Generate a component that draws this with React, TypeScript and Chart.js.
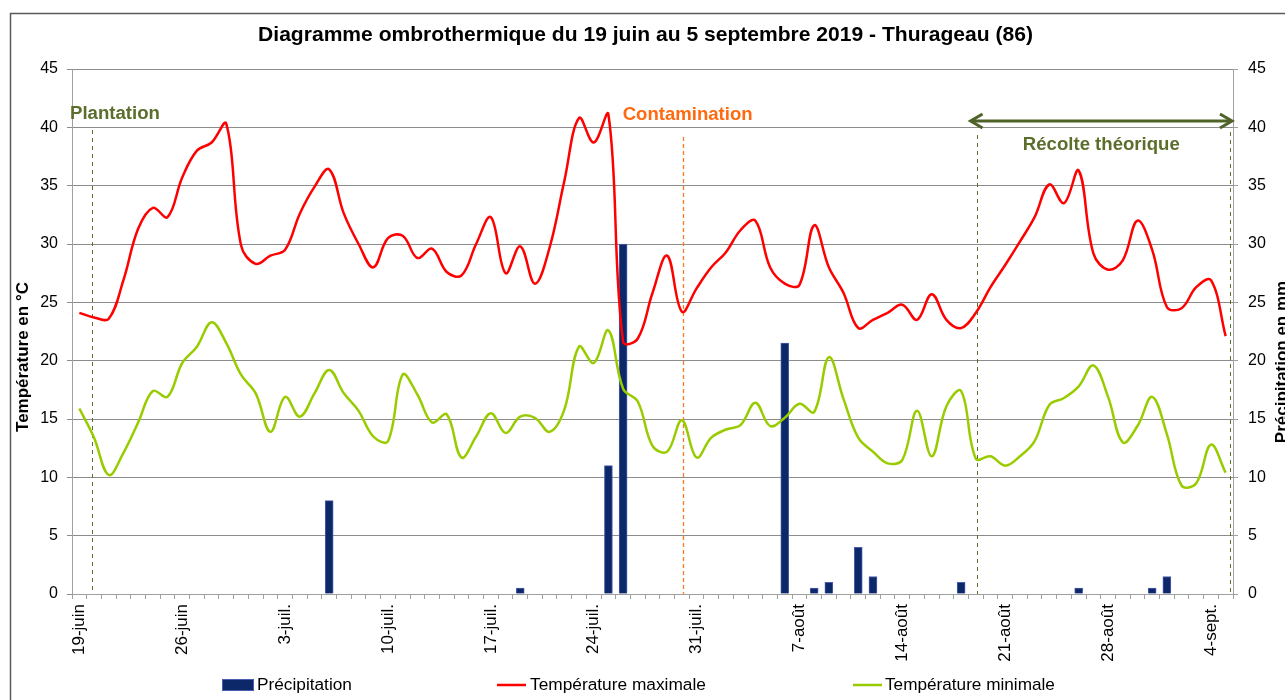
import React, { useEffect, useRef } from "react";
import { Chart, registerables } from "chart.js";

Chart.register(...registerables);

const FAMILY = '"Liberation Sans", Arial, Helvetica, sans-serif';

const TITLE = "Diagramme ombrothermique du 19 juin au 5 septembre 2019 - Thurageau (86)";
const Y_LEFT_TITLE = "Température en °C";
const Y_RIGHT_TITLE = "Précipitation en mm";

const categories = [
  "19-juin", "20-juin", "21-juin", "22-juin", "23-juin", "24-juin", "25-juin", "26-juin", "27-juin", "28-juin", "29-juin", "30-juin",
  "1-juil.", "2-juil.", "3-juil.", "4-juil.", "5-juil.", "6-juil.", "7-juil.", "8-juil.", "9-juil.", "10-juil.", "11-juil.", "12-juil.",
  "13-juil.", "14-juil.", "15-juil.", "16-juil.", "17-juil.", "18-juil.", "19-juil.", "20-juil.", "21-juil.", "22-juil.", "23-juil.",
  "24-juil.", "25-juil.", "26-juil.", "27-juil.", "28-juil.", "29-juil.", "30-juil.", "31-juil.",
  "1-août", "2-août", "3-août", "4-août", "5-août", "6-août", "7-août", "8-août", "9-août", "10-août", "11-août", "12-août",
  "13-août", "14-août", "15-août", "16-août", "17-août", "18-août", "19-août", "20-août", "21-août", "22-août", "23-août",
  "24-août", "25-août", "26-août", "27-août", "28-août", "29-août", "30-août", "31-août",
  "1-sept.", "2-sept.", "3-sept.", "4-sept.", "5-sept.",
];

const precipitation = [
  0, 0, 0, 0, 0, 0, 0, 0, 0, 0,
  0, 0, 0, 0, 0, 0, 0, 8, 0, 0,
  0, 0, 0, 0, 0, 0, 0, 0, 0, 0,
  0.5, 0, 0, 0, 0, 0, 11, 30, 0, 0,
  0, 0, 0, 0, 0, 0, 0, 0, 21.5, 0,
  0.5, 1, 0, 4, 1.5, 0, 0, 0, 0, 0,
  1, 0, 0, 0, 0, 0, 0, 0, 0.5, 0,
  0, 0, 0, 0.5, 1.5, 0, 0, 0, 0,
];

const tempMax = [
  24.1, 23.7, 23.6, 26.9, 31.3, 33.1, 32.3, 35.7, 38.0, 38.7,
  40.3, 29.9, 28.3, 29.0, 29.5, 32.6, 34.9, 36.4, 32.6, 30.0,
  28.0, 30.5, 30.7, 28.8, 29.6, 27.6, 27.3, 30.0, 32.3, 27.5,
  29.8, 26.6, 29.7, 35.4, 40.8, 38.7, 41.1, 21.6, 21.9, 25.8,
  29.0, 24.2, 26.2, 28.0, 29.3, 31.2, 32.0, 28.0, 26.6, 26.5,
  31.6, 28.0, 25.8, 22.8, 23.5, 24.1, 24.8, 23.5, 25.7, 23.5,
  22.8, 24.1, 26.3, 28.2, 30.2, 32.3, 35.1, 33.5, 36.3, 29.2,
  27.8, 28.6, 32.0, 29.5, 24.6, 24.5, 26.3, 26.9, 22.1,
];

const tempMin = [
  15.9, 13.4, 10.2, 12.1, 14.7, 17.4, 16.9, 19.8, 21.2, 23.3,
  21.5, 18.8, 17.2, 13.9, 16.9, 15.2, 17.2, 19.2, 17.2, 15.7,
  13.5, 13.1, 18.8, 17.1, 14.7, 15.4, 11.7, 13.5, 15.5, 13.8,
  15.2, 15.1, 13.9, 15.8, 21.2, 19.8, 22.6, 17.6, 16.5, 12.7,
  12.2, 14.9, 11.7, 13.4, 14.1, 14.5, 16.4, 14.4, 15.1, 16.3,
  15.6, 20.3, 16.7, 13.4, 12.2, 11.2, 11.5, 15.7, 11.8, 16.1,
  17.4, 11.6, 11.8, 11.0, 11.8, 13.1, 16.2, 16.8, 17.8, 19.6,
  16.9, 13.0, 14.4, 16.9, 13.7, 9.3, 9.5, 12.8, 10.4,
];

const seriesNames = ["Précipitation", "Température maximale", "Température minimale"];

// event markers (category index positions)
const plantationDay = 0.85;
const contaminationDay = 41.05;
const harvestStartDay = 61.05;
const harvestEndDay = 78.3;

const OLIVE = "#5b6e2c";
const ORANGE = "#ff6a10";
const RED = "#ff0000";
const GREEN = "#99cc00";
const NAVY = "#0c2868";
const NAVY_BORDER = "#4d5db0";

function setFitFont(ctx: CanvasRenderingContext2D, text: string, width: number, weight: string) {
  ctx.font = `${weight} 20px ${FAMILY}`;
  const w = ctx.measureText(text).width;
  const size = (20 * width) / w;
  ctx.font = `${weight} ${size.toFixed(2)}px ${FAMILY}`;
}

function dayX(chart: any, idx: number) {
  const xs = chart.scales.x;
  const p0 = xs.getPixelForValue(0);
  const p1 = xs.getPixelForValue(1);
  return p0 + idx * (p1 - p0);
}

const decorPlugin = {
  id: "decor",
  beforeDatasetsDraw(chart: any) {
    const ctx = chart.ctx as CanvasRenderingContext2D;
    const bottom = chart.chartArea.bottom;
    const lines: [number, number, string, number[], number][] = [
      [plantationDay, 130, OLIVE, [4, 4], 1],
      [contaminationDay, 137, "#ff7a20", [4, 3], 1.3],
      [harvestStartDay, 135, OLIVE, [4, 4], 1],
      [harvestEndDay, 132, OLIVE, [4, 4], 1],
    ];
    ctx.save();
    for (const [d, top, color, dash, lw] of lines) {
      const x = Math.round(dayX(chart, d)) + 0.5;
      ctx.lineWidth = lw;
      ctx.strokeStyle = color;
      ctx.setLineDash(dash);
      ctx.beginPath();
      ctx.moveTo(x, top);
      ctx.lineTo(x, bottom);
      ctx.stroke();
    }
    ctx.restore();
  },
  afterDraw(chart: any) {
    const ctx = chart.ctx as CanvasRenderingContext2D;
    const area = chart.chartArea;
    ctx.save();

    // outer border
    ctx.strokeStyle = "#5a5a5a";
    ctx.lineWidth = 1.5;
    ctx.beginPath();
    ctx.moveTo(10.5, 700);
    ctx.lineTo(10.5, 13.5);
    ctx.lineTo(1285, 13.5);
    ctx.stroke();

    // title
    ctx.fillStyle = "#000";
    ctx.textAlign = "center";
    ctx.textBaseline = "middle";
    setFitFont(ctx, TITLE, 775, "bold");
    ctx.fillText(TITLE, 645.5, 35);

    // axis titles
    setFitFont(ctx, Y_LEFT_TITLE, 150, "bold");
    const axisFont = ctx.font;
    ctx.save();
    ctx.translate(23, 357);
    ctx.rotate(-Math.PI / 2);
    ctx.fillText(Y_LEFT_TITLE, 0, 0);
    ctx.restore();
    ctx.save();
    ctx.font = axisFont;
    ctx.translate(1282, 362);
    ctx.rotate(-Math.PI / 2);
    ctx.fillText(Y_RIGHT_TITLE, 0, 0);
    ctx.restore();

    // Plantation
    ctx.fillStyle = OLIVE;
    ctx.textAlign = "left";
    setFitFont(ctx, "Plantation", 90, "bold");
    ctx.fillText("Plantation", area.left - 2, 114);

    // Contamination
    ctx.fillStyle = ORANGE;
    ctx.textAlign = "center";
    setFitFont(ctx, "Contamination", 130, "bold");
    ctx.fillText("Contamination", dayX(chart, contaminationDay) + 5, 115);

    // Récolte théorique
    const hx1 = dayX(chart, harvestStartDay);
    const hx2 = dayX(chart, harvestEndDay);
    ctx.fillStyle = OLIVE;
    setFitFont(ctx, "Récolte théorique", 157, "bold");
    ctx.fillText("Récolte théorique", (hx1 + hx2) / 2 - 2, 145);

    // double arrow
    const ay = 121;
    const left = hx1 - 6;
    const right = area.right - 1;
    ctx.strokeStyle = "#4f6228";
    ctx.lineWidth = 3;
    ctx.lineJoin = "miter";
    ctx.beginPath();
    ctx.moveTo(left + 1, ay);
    ctx.lineTo(right - 1, ay);
    ctx.stroke();
    ctx.beginPath();
    ctx.moveTo(left + 12, ay - 7);
    ctx.lineTo(left, ay);
    ctx.lineTo(left + 12, ay + 7);
    ctx.stroke();
    ctx.beginPath();
    ctx.moveTo(right - 12, ay - 7);
    ctx.lineTo(right, ay);
    ctx.lineTo(right - 12, ay + 7);
    ctx.stroke();

    // legend
    const ly = 685;
    ctx.textAlign = "left";
    ctx.fillStyle = NAVY;
    ctx.fillRect(222, 679, 32, 12);
    ctx.strokeStyle = NAVY_BORDER;
    ctx.lineWidth = 1;
    ctx.strokeRect(222.5, 679.5, 31, 11);
    ctx.fillStyle = "#000";
    setFitFont(ctx, seriesNames[0], 95, "normal");
    ctx.fillText(seriesNames[0], 257, ly);

    ctx.strokeStyle = RED;
    ctx.lineWidth = 2.5;
    ctx.beginPath();
    ctx.moveTo(497, ly);
    ctx.lineTo(526, ly);
    ctx.stroke();
    setFitFont(ctx, seriesNames[1], 176, "normal");
    ctx.fillText(seriesNames[1], 530, ly);

    ctx.strokeStyle = GREEN;
    ctx.beginPath();
    ctx.moveTo(853, ly);
    ctx.lineTo(882, ly);
    ctx.stroke();
    setFitFont(ctx, seriesNames[2], 170, "normal");
    ctx.fillText(seriesNames[2], 885, ly);

    ctx.restore();
  },
};

export default function App() {
  const canvasRef = useRef<HTMLCanvasElement | null>(null);

  useEffect(() => {
    if (!canvasRef.current) return;
    const tickFont = { family: FAMILY, size: 16 };
    const chart = new Chart(canvasRef.current, {
      type: "bar",
      data: {
        labels: categories,
        datasets: [
          {
            type: "line",
            label: seriesNames[1],
            data: tempMax,
            yAxisID: "y",
            borderColor: RED,
            backgroundColor: RED,
            borderWidth: 2.5,
            pointRadius: 0,
            tension: 0.38,
            fill: false,
            order: 1,
          },
          {
            type: "line",
            label: seriesNames[2],
            data: tempMin,
            yAxisID: "y",
            borderColor: GREEN,
            backgroundColor: GREEN,
            borderWidth: 2.5,
            pointRadius: 0,
            tension: 0.38,
            fill: false,
            order: 2,
          },
          {
            type: "bar",
            label: seriesNames[0],
            data: precipitation,
            yAxisID: "y1",
            backgroundColor: NAVY,
            borderColor: NAVY_BORDER,
            borderWidth: 1,
            barThickness: 8,
            order: 3,
          },
        ],
      } as any,
      options: {
        animation: false,
        responsive: false,
        maintainAspectRatio: false,
        layout: { padding: { left: 0, right: 0, top: 69, bottom: 0 } },
        plugins: {
          legend: { display: false },
          title: { display: false },
          tooltip: { enabled: false },
        },
        scales: {
          x: {
            type: "category",
            offset: true,
            grid: {
              offset: true,
              drawOnChartArea: false,
              drawTicks: true,
              tickLength: 5,
              color: "#a0a0a0",
            },
            border: { color: "#a0a0a0" },
            ticks: {
              autoSkip: false,
              maxRotation: 90,
              minRotation: 90,
              padding: 5,
              color: "#000",
              font: { family: FAMILY, size: 17 },
              callback: (_v: any, i: number) => (i % 7 === 0 ? categories[i] : ""),
            },
            afterFit: (s: any) => {
              s.height = 106;
            },
          },
          y: {
            position: "left",
            min: 0,
            max: 45,
            ticks: { stepSize: 5, color: "#000", font: tickFont, padding: 9 },
            grid: { color: "#8c8c8c", tickLength: 5 },
            border: { color: "#a0a0a0" },
            afterFit: (s: any) => {
              s.width = 72;
            },
          },
          y1: {
            position: "right",
            min: 0,
            max: 45,
            ticks: { stepSize: 5, color: "#000", font: tickFont, padding: 10 },
            grid: { drawOnChartArea: false, tickLength: 5, color: "#a0a0a0" },
            border: { color: "#a0a0a0" },
            afterFit: (s: any) => {
              s.width = 52;
            },
          },
        },
      } as any,
      plugins: [decorPlugin],
    });
    return () => chart.destroy();
  }, []);

  return (
    <div style={{ position: "absolute", left: 0, top: 0, width: 1285, height: 700, background: "#fff" }}>
      <canvas ref={canvasRef} width={1285} height={700} style={{ display: "block" }} />
    </div>
  );
}
